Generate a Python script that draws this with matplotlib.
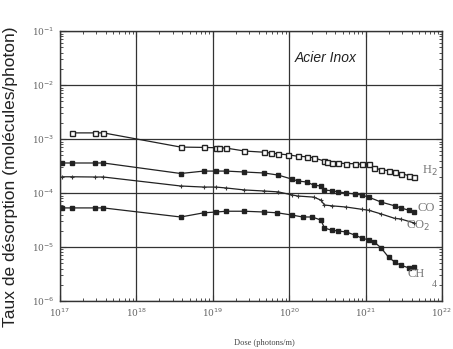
import matplotlib
matplotlib.use("Agg")
import matplotlib.pyplot as plt
from matplotlib.ticker import LogLocator, NullFormatter, FixedLocator

# doses (photons/m) and desorption yields
h2_dose = [1.44e17, 2.9e17, 3.7e17, 3.8e18, 7.6e18, 1.1e19, 1.2e19, 1.5e19, 2.6e19,
           4.7e19, 5.8e19, 7.2e19, 9.7e19, 1.3e20, 1.7e20, 2.1e20, 2.9e20, 3.1e20,
           3.6e20, 4.4e20, 5.6e20, 7.2e20, 8.9e20, 1.1e21, 1.3e21, 1.6e21, 2.0e21,
           2.4e21, 2.9e21, 3.7e21, 4.3e21]
h2_rate = [1.3e-3, 1.3e-3, 1.3e-3, 7.1e-4, 7.0e-4, 6.9e-4, 6.9e-4, 6.8e-4, 6.0e-4,
           5.7e-4, 5.5e-4, 5.3e-4, 5.1e-4, 4.8e-4, 4.7e-4, 4.5e-4, 3.9e-4, 3.7e-4,
           3.6e-4, 3.6e-4, 3.5e-4, 3.5e-4, 3.4e-4, 3.4e-4, 2.9e-4, 2.7e-4, 2.6e-4,
           2.45e-4, 2.3e-4, 2.1e-4, 2.0e-4]

co_dose = [1.06e17, 1.44e17, 2.9e17, 3.7e17, 3.8e18, 7.6e18, 1.1e19, 1.5e19, 2.6e19,
           4.7e19, 7.2e19, 1.1e20, 1.3e20, 1.7e20, 2.1e20, 2.6e20, 2.9e20, 3.6e20,
           4.4e20, 5.6e20, 7.2e20, 8.9e20, 1.1e21, 1.6e21, 2.4e21, 2.9e21, 3.7e21, 4.3e21]
co_rate = [3.6e-4, 3.6e-4, 3.6e-4, 3.6e-4, 2.3e-4, 2.55e-4, 2.55e-4, 2.55e-4, 2.45e-4,
           2.35e-4, 2.15e-4, 1.8e-4, 1.67e-4, 1.6e-4, 1.4e-4, 1.35e-4, 1.14e-4, 1.1e-4,
           1.05e-4, 1.0e-4, 9.6e-5, 9.2e-5, 8.4e-5, 6.8e-5, 5.8e-5, 5.3e-5, 4.8e-5, 4.45e-5]

co2_dose = [1.06e17, 1.44e17, 2.9e17, 3.7e17, 3.8e18, 7.6e18, 1.1e19, 1.5e19, 2.6e19,
            4.7e19, 7.2e19, 1.1e20, 1.3e20, 2.1e20, 2.6e20, 2.9e20, 3.6e20, 5.6e20,
            8.9e20, 1.1e21, 1.6e21, 2.4e21, 2.9e21, 4.3e21]
co2_rate = [2.0e-4, 2.0e-4, 1.98e-4, 1.98e-4, 1.35e-4, 1.29e-4, 1.29e-4, 1.24e-4, 1.14e-4,
            1.09e-4, 1.05e-4, 9.2e-5, 8.8e-5, 8.4e-5, 7.4e-5, 6.0e-5, 5.8e-5, 5.5e-5,
            5.0e-5, 4.8e-5, 4.1e-5, 3.4e-5, 3.3e-5, 2.8e-5]

ch4_dose = [1.06e17, 1.44e17, 2.9e17, 3.7e17, 3.8e18, 7.6e18, 1.1e19, 1.5e19, 2.6e19,
            4.7e19, 7.0e19, 1.1e20, 1.5e20, 2.0e20, 2.6e20, 2.9e20, 3.6e20, 4.4e20,
            5.6e20, 7.2e20, 8.9e20, 1.1e21, 1.3e21, 1.6e21, 2.0e21, 2.4e21, 2.9e21,
            3.7e21, 4.3e21]
ch4_rate = [5.3e-5, 5.3e-5, 5.3e-5, 5.3e-5, 3.6e-5, 4.3e-5, 4.45e-5, 4.6e-5, 4.6e-5,
            4.45e-5, 4.3e-5, 3.9e-5, 3.6e-5, 3.6e-5, 3.16e-5, 2.25e-5, 2.05e-5, 1.98e-5,
            1.9e-5, 1.67e-5, 1.47e-5, 1.35e-5, 1.24e-5, 9.6e-6, 6.5e-6, 5.3e-6, 4.6e-6,
            4.1e-6, 4.2e-6]

x_ticks = [1e17, 1e18, 1e19, 1e20, 1e21, 1e22]
x_ticklabels = ["10$^{17}$", "10$^{18}$", "10$^{19}$", "10$^{20}$", "10$^{21}$", "10$^{22}$"]
y_ticks = [1e-6, 1e-5, 1e-4, 1e-3, 1e-2, 1e-1]
y_ticklabels = ["10$^{-6}$", "10$^{-5}$", "10$^{-4}$", "10$^{-3}$", "10$^{-2}$", "10$^{-1}$"]

fig = plt.figure(figsize=(4.53, 3.49), dpi=100)
ax = fig.add_axes([0.1325, 0.1375, 0.843, 0.7735])

line_kw = dict(color="#222222", lw=0.9)
ax.plot(h2_dose, h2_rate, marker="s", ms=3.6, mfc="white", mec="#222222", mew=1.0, **line_kw)
ax.plot(co_dose, co_rate, marker="s", ms=3.4, mfc="#222222", mec="#222222", **line_kw)
ax.plot(co2_dose, co2_rate, marker="+", ms=3.5, mec="#333333", mew=0.8, **line_kw)
ax.plot(ch4_dose, ch4_rate, marker="s", ms=2.8, mfc="#222222", mec="#222222", **line_kw)

ax.set_xscale("log")
ax.set_yscale("log")
ax.set_xlim(1e17, 1e22)
ax.set_ylim(1e-6, 1e-1)

ax.xaxis.set_major_locator(FixedLocator(x_ticks))
ax.yaxis.set_major_locator(FixedLocator(y_ticks))
ax.set_xticklabels(x_ticklabels)
ax.set_yticklabels(y_ticklabels)
ax.xaxis.set_minor_locator(LogLocator(base=10, subs=range(2, 10), numticks=20))
ax.yaxis.set_minor_locator(LogLocator(base=10, subs=range(2, 10), numticks=20))
ax.xaxis.set_minor_formatter(NullFormatter())
ax.yaxis.set_minor_formatter(NullFormatter())

ax.grid(True, which="major", color="#333333", lw=0.9)
ax.tick_params(which="both", direction="in", top=True, right=True, color="#333333")
ax.tick_params(which="major", length=4, labelsize=6.5, labelcolor="#666666", pad=4)
ax.tick_params(which="minor", length=2)
for lab in ax.get_xticklabels() + ax.get_yticklabels():
    lab.set_family("DejaVu Serif")
for sp in ax.spines.values():
    sp.set_color("#333333")
    sp.set_linewidth(1.0)

ax.set_ylabel("Taux de désorption (molécules/photon)", family="Liberation Sans",
              fontsize=12.5, color="#222222")
ax.yaxis.set_label_coords(-0.11, 0.46)
ax.set_xlabel("Dose (photons/m)", family="Liberation Serif", fontsize=6, color="#444444")
ax.xaxis.set_label_coords(0.535, -0.14)

ax.text(3.0e20, 3.2e-2, "Acier Inox", style="italic", family="Liberation Sans",
        fontsize=10, ha="center", va="center", color="#222222")

lab_kw = dict(family="Liberation Serif", fontsize=9, color="#777777", va="center")
ax.text(5.5e21, 2.6e-4, "H$_2$", **lab_kw)
ax.text(4.8e21, 5.3e-5, "CO", **lab_kw)
ax.text(3.4e21, 2.5e-5, "CO$_2$", **lab_kw)
ax.text(3.5e21, 3.2e-6, "CH", **lab_kw)
ax.text(7.3e21, 2.0e-6, "4", family="Liberation Serif", fontsize=7, color="#777777", va="center")

fig.savefig("out.png", dpi=100)
